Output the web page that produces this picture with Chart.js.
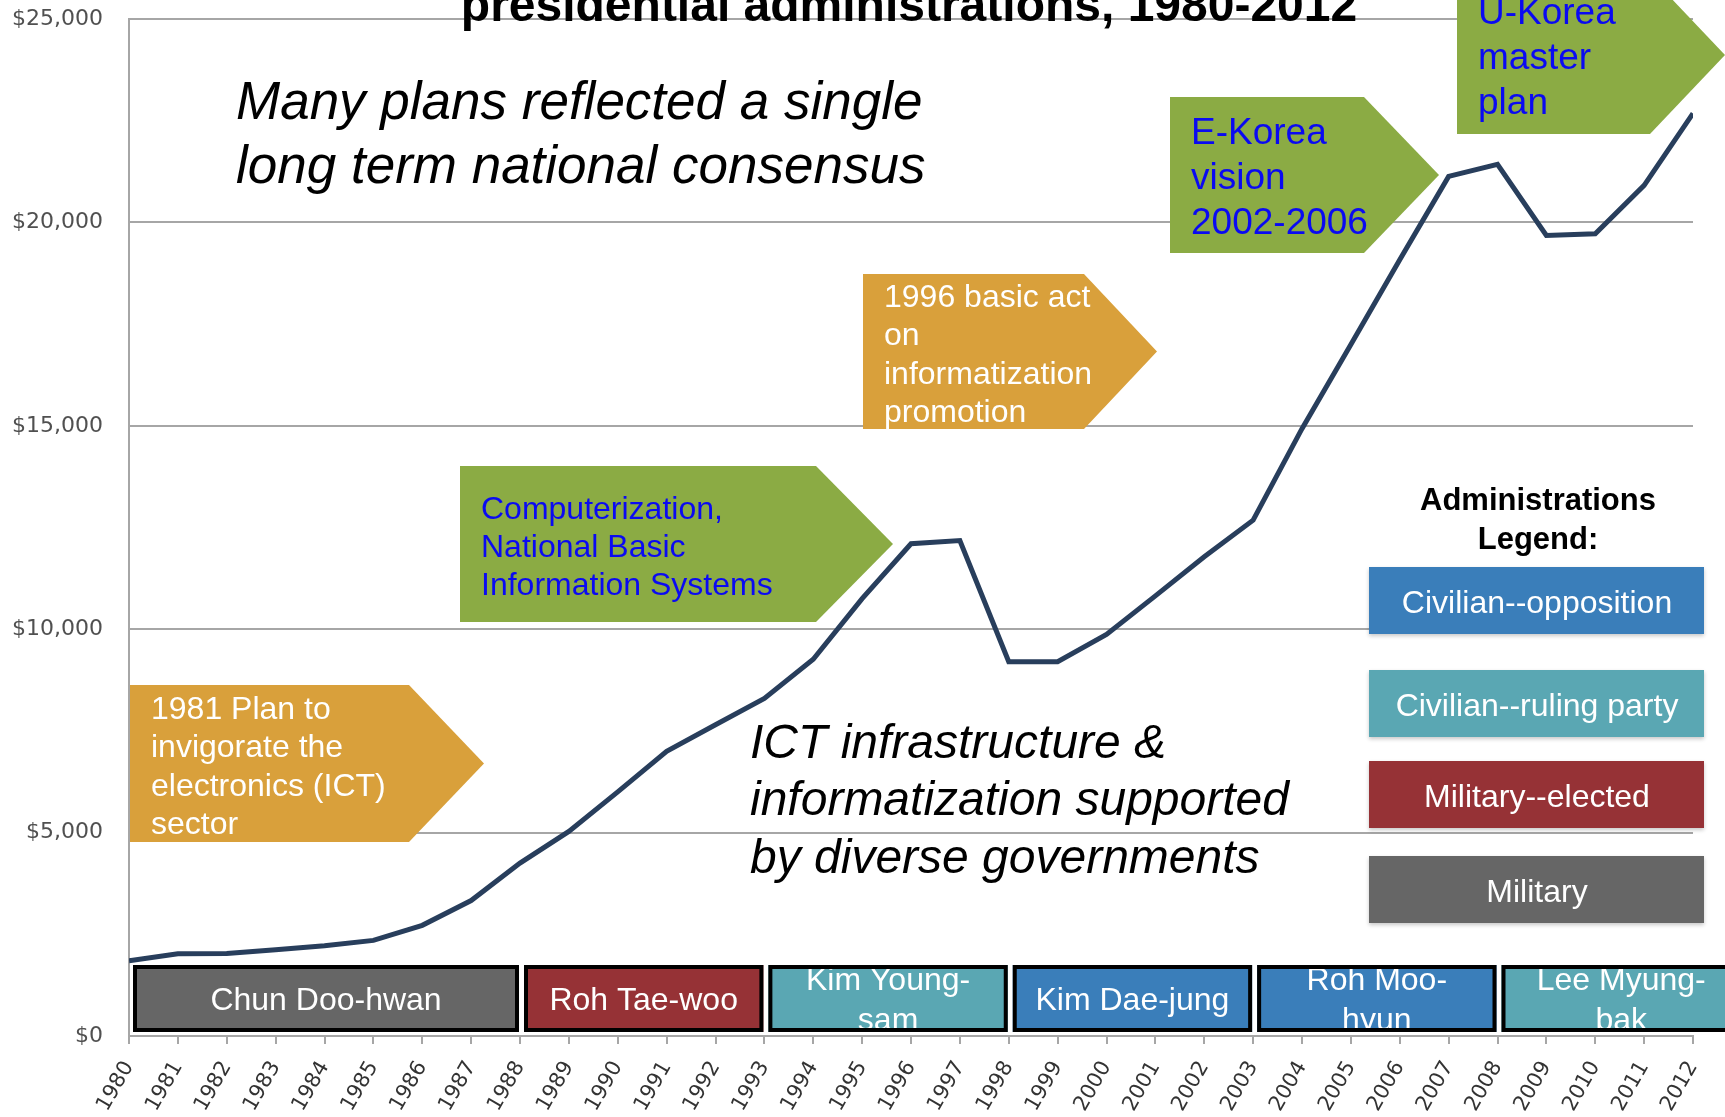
<!DOCTYPE html>
<html>
<head>
<meta charset="utf-8">
<title>Korea GDP per capita and ICT plans, 1980-2012</title>
<script src="https://cdn.jsdelivr.net/npm/chart.js@4.4.1/dist/chart.umd.min.js"></script>
<style>
  html, body { margin: 0; padding: 0; background: #fff; }
  #wrap { width: 1725px; height: 1117px; position: relative; overflow: hidden; }
</style>
</head>
<body>
<div id="wrap"><canvas id="gdp" width="1725" height="1117"></canvas></div>
<script>
// GDP per capita (US$) by year
const years = [1980, 1981, 1982, 1983, 1984, 1985, 1986, 1987, 1988, 1989, 1990,
  1991, 1992, 1993, 1994, 1995, 1996, 1997, 1998, 1999, 2000, 2001, 2002,
  2003, 2004, 2005, 2006, 2007, 2008, 2009, 2010, 2011, 2012];
const gdpPerCapita = [1850, 2020, 2030, 2120, 2220, 2350, 2720, 3330, 4250, 5030, 6000,
  7000, 7650, 8300, 9260, 10750, 12100, 12180, 9200, 9200, 9870, 10820, 11780,
  12680, 14930, 17000, 19080, 21130, 21430, 19680, 19720, 20910, 22680];
const yTickValues = [0, 5000, 10000, 15000, 20000, 25000];

// presidential terms
const adminNames = ['Chun Doo-hwan', 'Roh Tae-woo', 'Kim Young-sam', 'Kim Dae-jung', 'Roh Moo-hyun', 'Lee Myung-bak'];
const adminFrom = [1980, 1988, 1993, 1998, 2003, 2008];
const adminTo = [1988, 1993, 1998, 2003, 2008, 2013];
const adminKind = ['Military', 'Military--elected', 'Civilian--ruling party', 'Civilian--opposition', 'Civilian--opposition', 'Civilian--ruling party'];

const legendKinds = ['Civilian--opposition', 'Civilian--ruling party', 'Military--elected', 'Military'];
const kindColors = {
  'Civilian--opposition': '#3a7eba',
  'Civilian--ruling party': '#5aa7b3',
  'Military--elected': '#963236',
  'Military': '#666666'
};

const ORANGE = '#d9a03b';
const GREEN = '#8bab44';
const PLAN_BLUE = '#0a0af2';
const FONT = '"Liberation Sans", Arial, sans-serif';

// plan call-outs (arrow boxes)
const plans = [
  { lines: ['1981 Plan to', 'invigorate the', 'electronics (ICT)', 'sector'],
    x: 130, y: 685, w: 279, h: 157, tip: 75, fill: ORANGE, color: '#ffffff', size: 32, lead: 38.5 },
  { lines: ['Computerization,', 'National Basic', 'Information Systems'],
    x: 460, y: 466, w: 356, h: 156, tip: 77, fill: GREEN, color: PLAN_BLUE, size: 32, lead: 38 },
  { lines: ['1996 basic act', 'on', 'informatization', 'promotion'],
    x: 863, y: 274, w: 221, h: 155, tip: 73, fill: ORANGE, color: '#ffffff', size: 32, lead: 38.5 },
  { lines: ['E-Korea', 'vision', '2002-2006'],
    x: 1170, y: 97, w: 194, h: 156, tip: 75, fill: GREEN, color: PLAN_BLUE, size: 37, lead: 45 },
  { lines: ['U-Korea', 'master', 'plan'],
    x: 1457, y: -24, w: 193, h: 158, tip: 75, fill: GREEN, color: PLAN_BLUE, size: 37, lead: 45 }
];

// centred block of lines, a little lower than the 'middle' baseline puts it
function drawLines(ctx, lines, x, cy, lead) {
  const top = cy + 3 - (lines.length - 1) * lead / 2;
  lines.forEach((t, i) => ctx.fillText(t, x, top + i * lead));
}

const overlay = {
  id: 'overlay',
  beforeDatasetsDraw(chart) {
    const ctx = chart.ctx;
    ctx.save();

    // title (only the lower line shows at the top edge)
    ctx.fillStyle = '#000';
    ctx.font = 'bold 48px ' + FONT;
    ctx.textAlign = 'center';
    ctx.textBaseline = 'alphabetic';
    ctx.fillText('presidential administrations, 1980-2012', 909, 21);

    // italic notes
    ctx.textAlign = 'left';
    ctx.textBaseline = 'middle';
    ctx.font = 'italic 53px ' + FONT;
    drawLines(ctx, ['Many plans reflected a single', 'long term national consensus'], 236, 133, 64);
    ctx.font = 'italic 48px ' + FONT;
    drawLines(ctx, ['ICT infrastructure &', 'informatization supported', 'by diverse governments'], 750, 799, 57.5);

    // arrow boxes
    plans.forEach(p => {
      ctx.fillStyle = p.fill;
      ctx.beginPath();
      ctx.moveTo(p.x, p.y);
      ctx.lineTo(p.x + p.w, p.y);
      ctx.lineTo(p.x + p.w + p.tip, p.y + p.h / 2);
      ctx.lineTo(p.x + p.w, p.y + p.h);
      ctx.lineTo(p.x, p.y + p.h);
      ctx.closePath();
      ctx.fill();
      ctx.fillStyle = p.color;
      ctx.font = p.size + 'px ' + FONT;
      drawLines(ctx, p.lines, p.x + 21, p.y + p.h / 2 + 1, p.lead);
    });

    // administrations legend
    ctx.fillStyle = '#000';
    ctx.textAlign = 'center';
    ctx.font = 'bold 31px ' + FONT;
    drawLines(ctx, ['Administrations', 'Legend:'], 1538, 518, 39);
    const boxTops = [567, 670, 761, 856];
    legendKinds.forEach((k, i) => {
      ctx.save();
      ctx.shadowColor = 'rgba(0,0,0,0.22)';
      ctx.shadowBlur = 4;
      ctx.shadowOffsetY = 2;
      ctx.fillStyle = kindColors[k];
      ctx.fillRect(1369, boxTops[i], 335, 67);
      ctx.restore();
      ctx.fillStyle = '#fff';
      ctx.font = '32px ' + FONT;
      drawLines(ctx, [k], 1537, boxTops[i] + 34, 0);
    });
    ctx.restore();
  },
  afterDatasetsDraw(chart) {
    const ctx = chart.ctx;
    const xs = chart.scales.x;
    const base = chart.chartArea.bottom;
    const top = base - 71, bottom = base - 4;
    ctx.save();
    ctx.font = '32px ' + FONT;
    ctx.textAlign = 'center';
    ctx.textBaseline = 'middle';
    adminNames.forEach((name, i) => {
      const left = xs.getPixelForValue(adminFrom[i]) + 4;
      const right = xs.getPixelForValue(adminTo[i]) - 1;
      const w = right - left;
      ctx.fillStyle = kindColors[adminKind[i]];
      ctx.fillRect(left, top, w, bottom - top);

      // wrap at the hyphen when the name does not fit
      let lines = [name];
      if (ctx.measureText(name).width > w - 32 && name.includes('-')) {
        const cut = name.indexOf('-') + 1;
        lines = [name.slice(0, cut), name.slice(cut)];
      }
      ctx.save();
      ctx.beginPath();
      ctx.rect(left, top, w, bottom - top);
      ctx.clip();
      ctx.fillStyle = '#fff';
      drawLines(ctx, lines, (left + right) / 2, (top + bottom) / 2, 40);
      ctx.restore();

      ctx.strokeStyle = '#000';
      ctx.lineWidth = 4;
      ctx.strokeRect(left + 2, top + 2, w - 4, bottom - top - 4);
    });
    ctx.restore();
  }
};

new Chart(document.getElementById('gdp'), {
  type: 'line',
  data: {
    datasets: [{
      label: 'GDP per capita',
      data: years.map((yr, i) => ({ x: yr, y: gdpPerCapita[i] })),
      borderColor: '#283e5c',
      borderWidth: 5,
      pointRadius: 0,
      tension: 0,
      fill: false
    }]
  },
  options: {
    responsive: false,
    animation: false,
    devicePixelRatio: 1,
    layout: { padding: { top: 19, right: 32, left: 0, bottom: 0 } },
    plugins: { legend: { display: false }, tooltip: { enabled: false } },
    scales: {
      x: {
        type: 'linear',
        min: 1980,
        max: 2012,
        afterBuildTicks: s => { s.ticks = years.map(v => ({ value: v })); },
        // fixed height; rotated labels may hang past the plot edges
        afterFit: s => { s.height = 81; s.paddingLeft = 0; s.paddingRight = 0; },
        grid: { drawOnChartArea: false, drawTicks: true, tickLength: 8, color: '#a6a6a6', lineWidth: 2 },
        border: { color: '#a6a6a6', width: 2 },
        ticks: {
          autoSkip: false,
          minRotation: 60,
          maxRotation: 60,
          padding: 13,
          color: '#333333',
          font: { family: 'DejaVu Sans', size: 21 },
          callback: v => String(v)
        }
      },
      y: {
        min: 0,
        max: 25000,
        afterBuildTicks: s => { s.ticks = yTickValues.map(v => ({ value: v })); },
        // keep the label padding from pushing the plot down
        afterFit: s => { s.width = 129; s.paddingTop = 0; s.paddingBottom = 0; },
        grid: { color: '#a6a6a6', lineWidth: 2, drawTicks: false },
        border: { color: '#a6a6a6', width: 2 },
        ticks: {
          padding: 26,
          color: '#505050',
          font: { family: 'DejaVu Sans', size: 22 },
          callback: v => '$' + v.toLocaleString('en-US')
        }
      }
    }
  },
  plugins: [overlay]
});
</script>
</body>
</html>
